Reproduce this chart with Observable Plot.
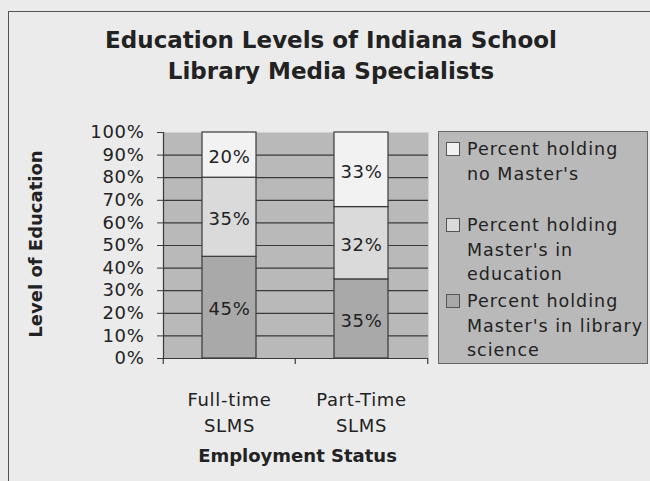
<!DOCTYPE html>
<html>
<head>
<meta charset="utf-8">
<script src="https://cdn.jsdelivr.net/npm/d3@7"></script>
<script src="https://cdn.jsdelivr.net/npm/@observablehq/plot@0.6"></script>
<style>
  html, body { margin: 0; padding: 0; background: #ebebeb; }
  #chart { position: relative; width: 650px; height: 481px; overflow: hidden; background: #ebebeb;
           font-family: "DejaVu Sans", sans-serif; color: #222; }
  #chart svg { position: absolute; left: 0; top: 0; }
  .frame { position: absolute; left: 8px; top: 11px; right: -2px; bottom: -2px;
           border-top: 1px solid #555; border-left: 1px solid #555; pointer-events: none; }
  .title { position: absolute; left: 331px; top: 24.6px; transform: translateX(-50%);
           font-size: 23px; font-weight: bold; line-height: 31px; text-align: center; white-space: nowrap; }
  .ytitle { position: absolute; left: 36px; top: 244px; transform: translate(-50%, -50%) rotate(-90deg);
            font-size: 18px; font-weight: bold; line-height: 18px; white-space: nowrap; }
  .xtitle { position: absolute; left: 297.5px; top: 446.8px; transform: translateX(-50%);
            font-size: 18px; font-weight: bold; line-height: 18px; white-space: nowrap; }
  .legend { position: absolute; left: 438px; top: 131px; width: 208px; height: 231px;
            border: 1px solid #666; background: #b9b9b9; }
  .legend .item { position: absolute; left: 0; }
  .legend .sw { position: absolute; left: 7px; top: 5px; width: 12px; height: 12px; border: 1px solid #555; }
  .legend .lab { position: absolute; left: 28px; top: 0; font-size: 17.5px; line-height: 24.5px;
                 letter-spacing: 1px; white-space: pre; }
</style>
</head>
<body>
<div id="chart">
  <div class="frame"></div>
</div>
<script>
// ---- data ----
const titleLines = ["Education Levels of Indiana School", "Library Media Specialists"];
const yTitle = "Level of Education";
const xTitle = "Employment Status";
const categories = ["Full-time SLMS", "Part-Time SLMS"];
const tickLabels = ["Full-time\nSLMS", "Part-Time\nSLMS"];
const seriesNames = [
  "Percent holding Master's in library science",
  "Percent holding Master's in education",
  "Percent holding no Master's"
];
const legendLabels = [
  "Percent holding\nMaster's in library\nscience",
  "Percent holding\nMaster's in\neducation",
  "Percent holding\nno Master's"
];
const libraryScience = [45, 35];
const education = [35, 32];
const noMasters = [20, 33];
const yTicks = [0, 10, 20, 30, 40, 50, 60, 70, 80, 90, 100];
const gridValues = [10, 20, 30, 40, 50, 60, 70, 80, 90];
const colors = ["#a9a9a9", "#dadada", "#f2f2f2"];

const seriesValues = [libraryScience, education, noMasters];
const data = [];
categories.forEach((c, i) => {
  seriesNames.forEach((s, j) => data.push({category: c, series: s, value: seriesValues[j][i]}));
});

// ---- layout ----
const W = 650, H = 481;
const mL = 163, mR = 222, mT = 132, mB = 123;
const step = (W - mL - mR) / categories.length;
const ink = "#3a3a3a";

const chart = Plot.plot({
  width: W, height: H,
  marginLeft: mL, marginRight: mR, marginTop: mT, marginBottom: mB,
  style: {fontFamily: "'DejaVu Sans', sans-serif", fontSize: "18px", letterSpacing: "0.7px",
          color: "#222", background: "transparent", overflow: "visible"},
  x: {domain: categories, paddingInner: 0.59, paddingOuter: 0.295, axis: null},
  y: {domain: [0, 100], axis: null},
  color: {domain: seriesNames, range: colors},
  marks: [
    Plot.frame({fill: "#b9b9b9", stroke: null}),
    Plot.ruleY(gridValues, {stroke: ink, strokeWidth: 1.2}),
    Plot.barY(data, {x: "category", y: "value", fill: "series", stroke: ink, strokeWidth: 1.2}),
    Plot.text(data, Plot.stackY({x: "category", y: "value", text: d => d.value + "%", dy: 2, fill: "#222"})),
    Plot.ruleY([0], {stroke: ink, strokeWidth: 1.2}),
    Plot.frame({anchor: "left", stroke: ink, strokeWidth: 1.2}),
    Plot.axisY(yTicks, {tickSize: 6, tickPadding: 13, tickFormat: d => d + "%", stroke: ink, fill: "#222", label: null}),
    Plot.axisX({tickSize: 0, tickPadding: 29, tickFormat: d => tickLabels[categories.indexOf(d)],
                lineHeight: 1.44, fill: "#222", label: null}),
    Plot.ruleX(categories, {x: d => d, y1: 0, y2: 0, insetBottom: -6, dx: -step / 2, stroke: ink, strokeWidth: 1.2}),
    Plot.ruleX(categories.slice(-1), {x: d => d, y1: 0, y2: 0, insetBottom: -6, dx: step / 2, stroke: ink, strokeWidth: 1.2})
  ]
});

const root = document.getElementById("chart");
root.insertBefore(chart, root.firstChild);

const t = document.createElement("div");
t.className = "title";
t.innerHTML = titleLines.join("<br>");
root.appendChild(t);

const yt = document.createElement("div");
yt.className = "ytitle";
yt.textContent = yTitle;
root.appendChild(yt);

const xt = document.createElement("div");
xt.className = "xtitle";
xt.textContent = xTitle;
root.appendChild(xt);

const lg = document.createElement("div");
lg.className = "legend";
// legend listed top-down in reverse stacking order
const order = seriesNames.map((_, i) => i).reverse();
order.forEach((si, k) => {
  const item = document.createElement("div");
  item.className = "item";
  item.style.top = (5 + k * 76) + "px";
  const sw = document.createElement("div");
  sw.className = "sw";
  sw.style.background = colors[si];
  const lab = document.createElement("div");
  lab.className = "lab";
  lab.textContent = legendLabels[si];
  item.appendChild(sw);
  item.appendChild(lab);
  lg.appendChild(item);
});
root.appendChild(lg);
</script>
</body>
</html>
